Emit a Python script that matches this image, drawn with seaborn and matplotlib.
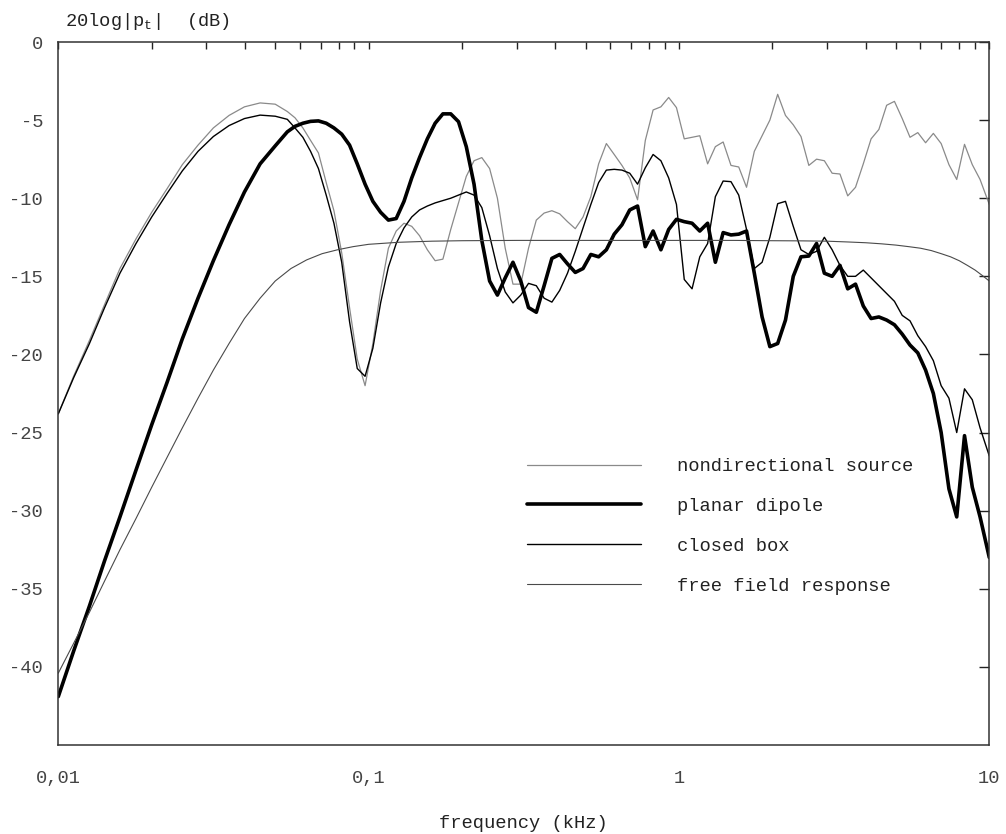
import numpy as np
import pandas as pd
import matplotlib
matplotlib.use("Agg")
import matplotlib.pyplot as plt
import seaborn as sns
from matplotlib.ticker import FixedLocator, FixedFormatter, LogLocator, NullFormatter

# ---------------- data ----------------
freq_low = [0.01, 0.0112, 0.0126, 0.0141, 0.0158, 0.0178, 0.02, 0.0224, 0.0251,
            0.0282, 0.0316, 0.0355, 0.0398, 0.0447, 0.05]
freq_grid = [
    0.0547, 0.0579, 0.0614, 0.0650, 0.0689, 0.0730, 0.0773, 0.0819, 0.0868, 0.0919,
    0.0974, 0.1032, 0.1093, 0.1158, 0.1227, 0.1300, 0.1377, 0.1459, 0.1546, 0.1638,
    0.1735, 0.1839, 0.1948, 0.2064, 0.2186, 0.2316, 0.2454, 0.2600, 0.2755, 0.2918,
    0.3092, 0.3275, 0.3470, 0.3677, 0.3895, 0.4127, 0.4373, 0.4633, 0.4908, 0.5200,
    0.5510, 0.5835, 0.6185, 0.6550, 0.6940, 0.7355, 0.7790, 0.8254, 0.8745, 0.9265,
    0.9816, 1.040, 1.102, 1.167, 1.237, 1.310, 1.388, 1.471, 1.558, 1.651,
    1.749, 1.853, 1.963, 2.080, 2.204, 2.335, 2.473, 2.621, 2.776, 2.941,
    3.116, 3.302, 3.498, 3.706, 3.926, 4.160, 4.407, 4.669, 4.947, 5.241,
    5.553, 5.883, 6.233, 6.603, 6.996, 7.412, 7.853, 8.320, 8.814, 9.338, 10.0]
freq = freq_low + freq_grid

nondirectional_db = [
    -23.8, -21.4, -19.1, -16.8, -14.5, -12.6, -10.9, -9.4, -7.85, -6.6, -5.5, -4.7,
    -4.15, -3.9, -3.98,
    -4.45, -4.85, -5.5, -6.3, -7.1, -9.0, -10.8, -13.5, -17.0, -20.3,
    -22.0, -19.3, -15.9, -13.2, -12.1, -11.6, -11.8, -12.4, -13.3, -14.0,
    -13.9, -12.0, -10.3, -8.6, -7.6, -7.4, -8.1, -10.0, -13.2, -15.5,
    -15.5, -13.2, -11.4, -10.95, -10.8, -11.0, -11.5, -11.95, -11.2, -9.9,
    -7.8, -6.5, -7.2, -7.9, -8.7, -10.1, -6.3, -4.35, -4.15, -3.55,
    -4.2, -6.2, -6.1, -6.0, -7.8, -6.7, -6.4, -7.9, -8.0, -9.3,
    -7.0, -6.0, -5.0, -3.35, -4.7, -5.3, -6.05, -7.9, -7.5, -7.6,
    -8.4, -8.45, -9.85, -9.3, -7.8, -6.2, -5.6, -4.05, -3.8, -4.9,
    -6.1, -5.8, -6.45, -5.85, -6.5, -7.85, -8.8, -6.55, -7.85, -8.8, -10.4]

planar_dipole_db = [
    -41.9, -39.0, -36.1, -33.2, -30.4, -27.4, -24.5, -21.8, -19.0, -16.4, -14.0, -11.7,
    -9.6, -7.8, -6.65,
    -5.75, -5.4, -5.2, -5.08, -5.05, -5.2, -5.5, -5.9, -6.6, -7.8,
    -9.1, -10.2, -10.9, -11.4, -11.3, -10.2, -8.7, -7.4, -6.2, -5.2,
    -4.6, -4.6, -5.1, -6.7, -9.1, -12.7, -15.3, -16.2, -15.1, -14.1,
    -15.3, -17.0, -17.3, -15.6, -13.85, -13.6, -14.2, -14.75, -14.5, -13.6,
    -13.75, -13.3, -12.3, -11.7, -10.75, -10.5, -13.1, -12.1, -13.3, -12.0,
    -11.35, -11.5, -11.6, -12.1, -11.6, -14.1, -12.2, -12.35, -12.3, -12.1,
    -14.8, -17.6, -19.5, -19.3, -17.8, -15.0, -13.75, -13.7, -12.9, -14.8,
    -15.0, -14.3, -15.8, -15.5, -16.9, -17.7, -17.6, -17.8, -18.1, -18.7,
    -19.4, -19.9, -21.0, -22.5, -25.0, -28.6, -30.4, -25.2, -28.5, -30.4, -33.0]

closed_box_db = [
    -23.8, -21.5, -19.3, -17.0, -14.8, -12.9, -11.2, -9.7, -8.25, -7.0, -6.05, -5.35,
    -4.9, -4.68, -4.75,
    -4.95, -5.5, -6.1, -7.0, -8.1, -9.8, -11.6, -14.1, -17.9, -20.9,
    -21.4, -19.6, -16.7, -14.4, -12.9, -11.9, -11.2, -10.75, -10.5, -10.3,
    -10.15, -10.0, -9.8, -9.6, -9.8, -10.6, -12.4, -14.5, -16.0, -16.7,
    -16.2, -15.45, -15.6, -16.4, -16.65, -15.9, -14.8, -13.4, -11.9, -10.4,
    -9.0, -8.2, -8.15, -8.2, -8.4, -9.1, -8.05, -7.2, -7.6, -8.7,
    -10.4, -15.2, -15.8, -13.75, -12.9, -9.9, -8.9, -8.94, -9.8, -12.0,
    -14.5, -14.1, -12.5, -10.35, -10.2, -11.8, -13.3, -13.6, -13.4, -12.5,
    -13.3, -14.3, -15.0, -15.0, -14.6, -15.1, -15.6, -16.1, -16.6, -17.5,
    -17.85, -18.8, -19.5, -20.4, -22.0, -22.8, -25.0, -22.2, -22.9, -24.7, -26.5]

ff_freq = [0.01, 0.0112, 0.0126, 0.0141, 0.0158, 0.0178, 0.02, 0.0224, 0.0251, 0.0282,
           0.0316, 0.0355, 0.0398, 0.0447, 0.05, 0.0562, 0.0631, 0.0708, 0.0794, 0.0891,
           0.1, 0.125, 0.16, 0.2, 0.3, 0.5, 1.0, 1.5, 2.0, 2.5, 3.0, 3.5, 4.0, 4.5, 5.0,
           5.5, 6.0, 6.5, 7.0, 7.5, 8.0, 8.5, 9.0, 9.5, 10.0]
free_field_db = [-40.4, -38.5, -36.5, -34.5, -32.5, -30.5, -28.5, -26.6, -24.7, -22.8,
                 -21.0, -19.3, -17.7, -16.4, -15.3, -14.5, -13.95, -13.55, -13.3, -13.1,
                 -12.95, -12.82, -12.75, -12.72, -12.7, -12.7, -12.7, -12.7, -12.72, -12.73,
                 -12.75, -12.8, -12.85, -12.92, -13.0, -13.1, -13.2, -13.35, -13.55, -13.75,
                 -14.0, -14.3, -14.6, -14.95, -15.3]

labels = ["nondirectional source", "planar dipole", "closed box", "free field response"]
x_tick_vals = [0.01, 0.1, 1, 10]
x_tick_labels = ["0,01", "0,1", "1", "10"]
y_tick_vals = [0, -5, -10, -15, -20, -25, -30, -35, -40]
y_tick_labels = ["0", "-5", "-10", "-15", "-20", "-25", "-30", "-35", "-40"]

# ---------------- style ----------------
sns.set_style("white")
plt.rcParams["font.family"] = ["Liberation Mono", "DejaVu Sans Mono"]
plt.rcParams["mathtext.fontset"] = "custom"
plt.rcParams["mathtext.rm"] = "Liberation Mono"
plt.rcParams["mathtext.it"] = "Liberation Mono"
FS = 13.5

fig = plt.figure(figsize=(10.06, 8.34), dpi=100)
ax = fig.add_axes([0.05795, 0.10671, 0.92545, 0.84293])
ax.set_xscale("log")

df_main = pd.DataFrame({"freq": freq, labels[0]: nondirectional_db,
                        labels[1]: planar_dipole_db, labels[2]: closed_box_db})
df_ff = pd.DataFrame({"freq": ff_freq, "db": free_field_db})

styles = {
    labels[0]: dict(color="#8a8a8a", linewidth=0.9),
    labels[1]: dict(color="#000000", linewidth=2.6),
    labels[2]: dict(color="#000000", linewidth=1.0),
}
for lab in labels[:3]:
    sns.lineplot(data=df_main, x="freq", y=lab, ax=ax, label=lab,
                 estimator=None, sort=False, **styles[lab])
sns.lineplot(data=df_ff, x="freq", y="db", ax=ax, label=labels[3],
             estimator=None, sort=False, color="#4a4a4a", linewidth=0.8)

ax.set_xlim(0.01, 10)
ax.set_ylim(-45, 0)

ax.xaxis.set_major_locator(FixedLocator(x_tick_vals))
ax.xaxis.set_major_formatter(FixedFormatter(x_tick_labels))
ax.xaxis.set_minor_locator(LogLocator(base=10, subs=np.arange(2, 10)))
ax.xaxis.set_minor_formatter(NullFormatter())
ax.yaxis.set_major_locator(FixedLocator(y_tick_vals))
ax.yaxis.set_major_formatter(FixedFormatter(y_tick_labels))

ax.tick_params(which="both", direction="in", top=True, right=True,
               color="#222222", width=1.0, labelcolor="#444444", labelsize=FS)
ax.tick_params(axis="x", which="both", length=5, pad=18)
ax.tick_params(axis="y", which="major", length=7.5, pad=11)

for side in ["left", "right", "top", "bottom"]:
    ax.spines[side].set_visible(True)
    ax.spines[side].set_linewidth(1.1)
    ax.spines[side].set_color("#333333")

ax.set_xlabel("frequency (kHz)", fontsize=FS, color="#222222", labelpad=20)
ax.set_ylabel("")
fig.text(65 / 1006, 1 - 26 / 834, "20log|p$_\\mathrm{t}$|  (dB)", fontsize=FS,
         color="#222222", ha="left", va="baseline")

leg = ax.legend(loc="upper left", bbox_to_anchor=(0.5034, 0.4082), frameon=False,
                fontsize=FS, handlelength=6.1, handletextpad=1.9, labelspacing=1.21,
                borderpad=0, borderaxespad=0, labelcolor="#222222")

fig.savefig("out.png", dpi=100)
